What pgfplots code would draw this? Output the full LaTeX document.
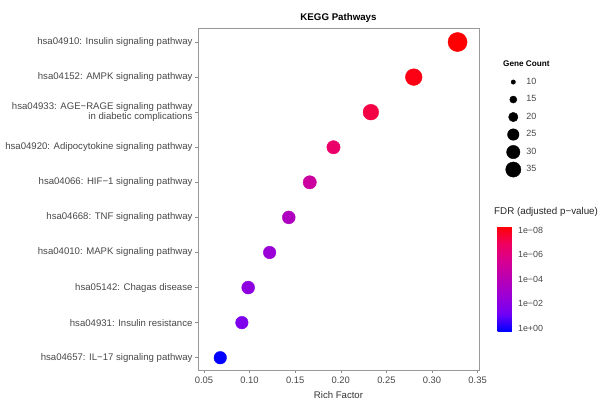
\documentclass[border=0pt]{standalone}
\usepackage{pgfplots}
\pgfplotsset{compat=1.18}
\usepackage{pgfplotstable}
\usepackage{fontspec}
\setmainfont{Liberation Sans}
\usetikzlibrary{calc}

% y = row (bottom to top), rich = Rich Factor, count = Gene Count, nlf = -log10(FDR)
\pgfplotstableread{
y rich count nlf
10 0.328 48 8.30
9 0.280 40 8.05
8 0.233 37 7.30
7 0.192 30 6.60
6 0.166 30 4.90
5 0.143 29 3.60
4 0.122 28 2.60
3 0.0985 29 2.20
2 0.0916 28 1.60
1 0.0679 28 -0.20
}\datatable

\begin{document}
\begin{tikzpicture}
\useasboundingbox (0,0) rectangle (605pt,399pt);
\begin{axis}[
  at={(198pt,29pt)}, anchor=south west,
  scale only axis, width=281pt, height=342pt,
  xmin=0.0435, xmax=0.3515, ymin=0.65, ymax=10.4,
  xtick={0.05,0.1,0.15,0.2,0.25,0.3,0.35},
  /pgf/number format/assume math mode=true,
  xticklabel={\pgfmathprintnumber[fixed,fixed zerofill,precision=2]{\tick}},
  ytick={1,2,3,4,5,6,7,8,9,10},
  yticklabels={hsa04657: IL−17 signaling pathway,
    hsa04931: Insulin resistance,
    hsa05142: Chagas disease,
    hsa04010: MAPK signaling pathway,
    hsa04668: TNF signaling pathway,
    hsa04066: HIF−1 signaling pathway,
    hsa04920: Adipocytokine signaling pathway,
    {hsa04933: AGE−RAGE signaling pathway\\in diabetic complications},
    hsa04152: AMPK signaling pathway,
    hsa04910: Insulin signaling pathway},
  yticklabel style={align=right, font=\fontsize{9.6}{10}\selectfont, text=black!72, xshift=1pt},
  xticklabel style={font=\fontsize{9.4}{10}\selectfont, text=black!72},
  tick align=outside, major tick length=3pt,
  xtick pos=bottom, ytick pos=left,
  tick style={black!45, line width=0.5pt},
  axis line style={black!40, line width=0.6pt},
  title={KEGG Pathways},
  title style={font=\fontsize{9.7}{11}\selectfont\bfseries, at={(0.5,1)}, anchor=south, yshift=-4pt},
  xlabel={Rich Factor},
  xlabel style={font=\fontsize{9.6}{10}\selectfont, text=black!80, yshift=-1pt},
  colormap={kegg}{rgb255=(0,0,255) rgb255=(115,0,245) rgb255=(155,0,215) rgb255=(185,0,180) rgb255=(215,0,145) rgb255=(240,0,95) rgb255=(255,0,0)},
  point meta min=-0.25, point meta max=8.33,
  colorbar,
  colorbar style={
    at={(489pt,68pt)}, anchor=south west,
    scale only axis, width=17pt, height=105pt,
    ytick={0,2,4,6,8},
    yticklabels={1e+00,1e−02,1e−04,1e−06,1e−08},
    yticklabel style={font=\fontsize{8.9}{10}\selectfont, text=black!72},
    axis line style={draw=none}, major tick length=0pt, tick style={draw=none},
  },
  legend style={at={(1.0715,0.874)}, anchor=north west, draw=none, fill=none,
    font=\fontsize{9}{10}\selectfont, text=black!72, row sep=0pt,
    legend cell align=left},
  legend image code/.code={%
    \path[draw=none, fill=none] (0pt,-8.75pt) rectangle (22pt,8.75pt);
    \draw[#1, mark repeat=2, mark phase=2] plot coordinates {(0pt,0pt) (11pt,0pt) (22pt,0pt)};},
]
\addplot[scatter, only marks, mark=*, forget plot,
  scatter src=explicit,
  visualization depends on={\thisrow{count} \as \cnt},
  scatter/use mapped color={draw=mapped color, fill=mapped color},
  scatter/@pre marker code/.append style={/tikz/mark size={2*sqrt(\cnt)-4.3}},
] table[x=rich, y=y, meta=nlf] {\datatable};

\addlegendimage{only marks, mark=*, black, mark size=2.2}\addlegendentry{10}
\addlegendimage{only marks, mark=*, black, mark size=3.55}\addlegendentry{15}
\addlegendimage{only marks, mark=*, black, mark size=4.7}\addlegendentry{20}
\addlegendimage{only marks, mark=*, black, mark size=5.75}\addlegendentry{25}
\addlegendimage{only marks, mark=*, black, mark size=6.7}\addlegendentry{30}
\addlegendimage{only marks, mark=*, black, mark size=7.6}\addlegendentry{35}
\end{axis}
\node[anchor=west, font=\fontsize{8.2}{10}\selectfont\bfseries, inner sep=0pt] at (503pt,335pt) {Gene Count};
\node[anchor=west, font=\fontsize{9.8}{11}\selectfont, text=black!85, inner sep=0pt] at (494pt,187pt) {FDR (adjusted p−value)};
\end{tikzpicture}
\end{document}
